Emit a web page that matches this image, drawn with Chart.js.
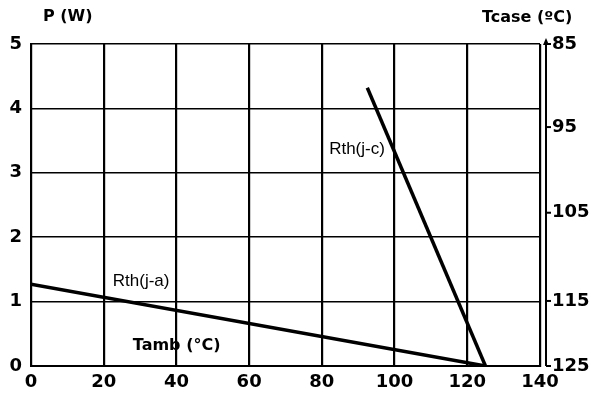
<!DOCTYPE html>
<html>
<head>
<meta charset="utf-8">
<script src="https://cdn.jsdelivr.net/npm/chart.js@4.4.1/dist/chart.umd.min.js"></script>
<style>
    html, body { margin: 0; padding: 0; background: #fff; }
    #wrap { width: 599px; height: 396px; }
</style>
</head>
<body>
<div id="wrap"><canvas id="deratingChart"></canvas></div>
<script>
const xTicks = [0, 20, 40, 60, 80, 100, 120, 140];
const pTicks = [0, 1, 2, 3, 4, 5];

// Rth(j-a): power vs ambient temperature
const rthJaTemp = [0, 125];
const rthJaPower = [1.27, 0];

// Rth(j-c): power vs case temperature
const rthJcTemp = [92.5, 125];
const rthJcPower = [4.32, 0];

// right axis: case temperature labels and the power level each one sits on
const tcaseLabels = [85, 95, 105, 115, 125];
const tcaseAtPower = [5, 3.71, 2.38, 1.01, 0];

const tickFamily = '"DejaVu Sans", sans-serif';
const boldFont = 'bold 18px "DejaVu Sans", sans-serif';

const overlayPlugin = {
    id: 'overlay',
    afterDraw(chart) {
        const c = chart.ctx;
        const x = chart.scales.x;
        const y = chart.scales.y;
        const area = chart.chartArea;
        c.save();
        c.fillStyle = '#000';
        c.strokeStyle = '#000';

        // axis titles
        c.font = 'bold 16px "DejaVu Sans", sans-serif';
        c.textBaseline = 'middle';
        c.textAlign = 'left';
        c.fillText('P (W)', 43, 17);
        c.fillText('Tcase (ºC)', 482, 18);
        c.fillText('Tamb (°C)', x.getPixelForValue(28), y.getPixelForValue(0.32));

        // curve labels
        c.font = '17px "Liberation Sans", Arial, sans-serif';
        c.fillText('Rth(j-a)', x.getPixelForValue(22.5), y.getPixelForValue(1.31));
        c.fillText('Rth(j-c)', x.getPixelForValue(82), y.getPixelForValue(3.36));

        // right-hand Tcase axis
        const ax = area.right + 6;
        c.lineWidth = 2;
        c.beginPath();
        c.moveTo(ax, area.top - 4);
        c.lineTo(ax, area.bottom);
        c.stroke();
        c.beginPath();
        c.moveTo(ax - 3, area.top + 1);
        c.lineTo(ax, area.top - 6);
        c.lineTo(ax + 3, area.top + 1);
        c.closePath();
        c.fill();

        c.font = boldFont;
        c.textAlign = 'left';
        tcaseLabels.forEach((t, i) => {
            const py = y.getPixelForValue(tcaseAtPower[i]);
            c.lineWidth = 2;
            c.beginPath();
            c.moveTo(ax, py);
            c.lineTo(ax + 5, py);
            c.stroke();
            c.fillText(String(t), ax + 6, py);
        });
        c.restore();
    }
};

new Chart(document.getElementById('deratingChart'), {
    type: 'scatter',
    data: {
        datasets: [
            {
                label: 'Rth(j-a)',
                data: rthJaTemp.map((t, i) => ({ x: t, y: rthJaPower[i] })),
                showLine: true,
                borderColor: '#000',
                borderWidth: 3.5,
                pointRadius: 0
            },
            {
                label: 'Rth(j-c)',
                data: rthJcTemp.map((t, i) => ({ x: t, y: rthJcPower[i] })),
                showLine: true,
                borderColor: '#000',
                borderWidth: 3.5,
                pointRadius: 0
            }
        ]
    },
    options: {
        responsive: true,
        maintainAspectRatio: false,
        animation: false,
        layout: {
            padding: { top: 44, right: 59, left: 0, bottom: 0 }
        },
        plugins: {
            legend: { display: false },
            tooltip: { enabled: false }
        },
        scales: {
            x: {
                type: 'linear',
                min: 0,
                max: 140,
                afterBuildTicks: scale => { scale.ticks = xTicks.map(v => ({ value: v })); },
                afterFit: scale => { scale.height = 30; },
                grid: { color: '#000', lineWidth: 2.2, drawTicks: false },
                border: { color: '#000', width: 2 },
                ticks: {
                    color: '#000',
                    padding: 6,
                    maxRotation: 0,
                    font: { family: tickFamily, size: 18, weight: 'bold' }
                }
            },
            y: {
                type: 'linear',
                min: 0,
                max: 5,
                afterBuildTicks: scale => { scale.ticks = pTicks.map(v => ({ value: v })); },
                afterFit: scale => { scale.width = 31; },
                grid: { color: '#000', lineWidth: 1.5, drawTicks: false },
                border: { color: '#000', width: 2 },
                ticks: {
                    color: '#000',
                    padding: 9,
                    font: { family: tickFamily, size: 18, weight: 'bold' }
                }
            }
        }
    },
    plugins: [overlayPlugin]
});
</script>
</body>
</html>
